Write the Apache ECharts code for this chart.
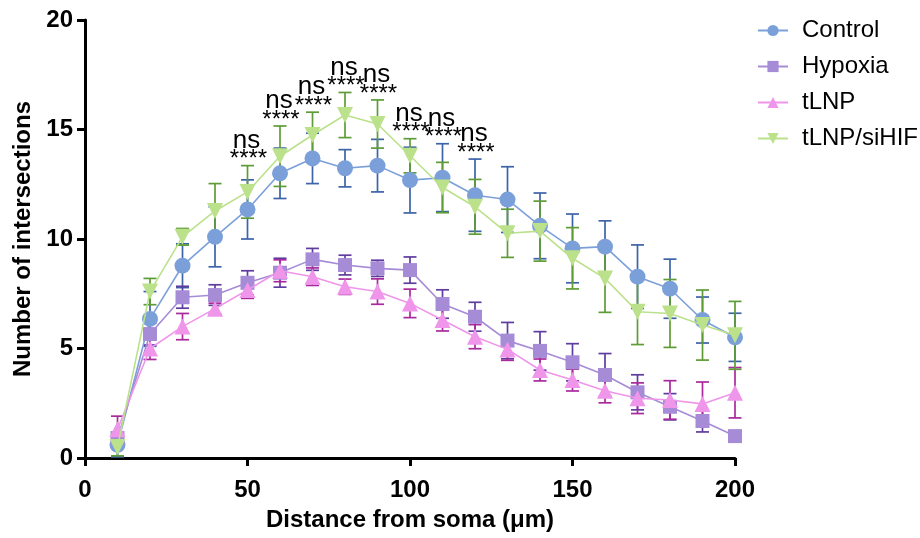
<!DOCTYPE html>
<html>
<head>
<meta charset="utf-8">
<script src="https://cdn.jsdelivr.net/npm/echarts@6/dist/echarts.min.js"></script>
<style>html,body{margin:0;padding:0;background:#fff}#c{width:920px;height:538px}</style>
</head>
<body>
<div id="c"></div>
<script>
const distances = [10,20,30,40,50,60,70,80,90,100,110,120,130,140,150,160,170,180,190,200];
const controlMean = [0.6,6.35,8.78,10.1,11.35,13.0,13.68,13.23,13.35,12.69,12.8,12.0,11.8,10.6,9.57,9.65,8.28,7.73,6.3,5.51];
const controlSem  = [0.55,1.25,1.0,1.37,1.35,1.15,1.15,0.85,1.2,1.5,1.55,1.65,1.5,1.5,1.57,1.18,1.45,1.35,1.05,1.1];
const hypoxiaMean = [0.91,5.66,7.34,7.44,8.0,8.46,9.07,8.81,8.66,8.58,7.03,6.45,5.36,4.89,4.37,3.79,3.0,2.34,1.69,1.0];
const hypoxiaSem  = [0.25,0.5,0.5,0.47,0.55,0.66,0.5,0.45,0.37,0.6,0.65,0.66,0.83,0.88,0.85,0.98,0.8,0.6,0.5,0];
const tlnpMean = [1.31,5.0,6.0,6.82,7.67,8.55,8.28,7.82,7.6,7.06,6.3,5.54,4.96,4.02,3.56,3.07,2.73,2.65,2.47,2.98];
const tlnpSem  = [0.6,0.5,0.6,0.25,0.38,0.5,0.4,0.35,0.58,0.65,0.5,0.55,0.5,0.5,0.5,0.55,0.7,0.88,1.0,1.15];
const sihifMean = [0.5,7.6,10.1,11.28,12.15,13.78,14.75,15.66,15.25,13.8,12.35,11.47,10.26,10.36,9.12,8.2,6.68,6.6,6.07,5.6];
const sihifSem  = [0.4,0.6,0.38,1.25,1.2,1.38,1.04,1.03,1.1,0.78,1.15,1.25,1.1,1.37,1.4,1.55,1.5,1.55,1.6,1.55];
const sigX = [50,60,70,80,90,100,110,120];
const sigUpper = ["ns","ns","ns","ns","ns","ns","ns","ns"];
const sigLower = ["****","****","****","****","****","****","****","****"];
const xTicks = [0,50,100,150,200];
const yTicks = [0,5,10,15,20];

const FONT = "'Liberation Sans', Arial, Helvetica, sans-serif";
const groups = [
  {name:'Control', mean:controlMean, sem:controlSem, color:'#7ba0d9', bar:'#3d63a9', symbol:'circle', size:16, rot:0},
  {name:'Hypoxia', mean:hypoxiaMean, sem:hypoxiaSem, color:'#a68bd7', bar:'#5f3c9f', symbol:'rect', size:14, rot:0},
  {name:'tLNP', mean:tlnpMean, sem:tlnpSem, color:'#ef95ea', bar:'#a92a9c', symbol:'triangle', size:16, rot:0},
  {name:'tLNP/siHIF', mean:sihifMean, sem:sihifSem, color:'#bbe18b', bar:'#5e9c35', symbol:'triangle', size:16, rot:180}
];

const series = [];
groups.forEach((g, gi) => {
  series.push({
    type:'custom', name:g.name+' SEM', z:2, silent:true,
    data: distances.map((x,i)=>[x, g.mean[i]-g.sem[i], g.mean[i]+g.sem[i]]),
    encode:{x:0, y:[1,2]},
    renderItem:(params, api)=>{
      const x = api.value(0);
      const lo = api.coord([x, api.value(1)]);
      const hi = api.coord([x, api.value(2)]);
      if (Math.abs(lo[1]-hi[1]) < 0.5) return null;
      const w = 6.5;
      const st = {stroke:g.bar, lineWidth:1.7, fill:null};
      return {type:'group', children:[
        {type:'line', shape:{x1:lo[0], y1:lo[1], x2:hi[0], y2:hi[1]}, style:st},
        {type:'line', shape:{x1:hi[0]-w, y1:hi[1], x2:hi[0]+w, y2:hi[1]}, style:st},
        {type:'line', shape:{x1:lo[0]-w, y1:lo[1], x2:lo[0]+w, y2:lo[1]}, style:st}
      ]};
    }
  });
});
groups.forEach((g, gi) => {
  series.push({
    type:'line', name:g.name, z:3+gi,
    data: distances.map((x,i)=>[x, g.mean[i]]),
    symbol:g.symbol, symbolSize:g.size, symbolRotate:g.rot, showSymbol:true,
    lineStyle:{color:g.color, width:1.6},
    itemStyle:{color:g.color, borderWidth:0},
    emphasis:{disabled:true}, animation:false
  });
});
// significance annotations placed above the highest error bar at each distance
const sigData = sigX.map((x, k) => {
  const i = distances.indexOf(x);
  const top = Math.max(...groups.map(g => g.mean[i] + g.sem[i]));
  return [x, top, k];
});
series.push({
  type:'custom', name:'sig', z:10, silent:true,
  data: sigData, encode:{x:0, y:1},
  renderItem:(params, api)=>{
    const x = api.value(0);
    const k = api.value(2);
    const p = api.coord([x, api.value(1)]);
    return {type:'group', children:[
      {type:'text', x:p[0]+1, y:p[1]+6, style:{text:sigLower[k], font:'24px '+FONT, fill:'#000', align:'center', verticalAlign:'bottom'}},
      {type:'text', x:p[0]-1, y:p[1]-12, style:{text:sigUpper[k], font:'26px '+FONT, fill:'#000', align:'center', verticalAlign:'bottom'}}
    ]};
  }
});

const chart = echarts.init(document.getElementById('c'), null, {renderer:'canvas'});
chart.setOption({
  animation:false,
  backgroundColor:'#fff',
  textStyle:{fontFamily:FONT},
  grid:{left:85, right:185, top:20, bottom:80, containLabel:false},
  legend:{
    data: groups.map(g=>g.name), orient:'vertical', left:752, top:13, padding:5,
    itemWidth:30, itemHeight:14, itemGap:11,
    textStyle:{fontSize:24, color:'#000', fontFamily:FONT, lineHeight:25, padding:[0,0,0,9]},
    selectedMode:false
  },
  xAxis:{
    type:'value', min:xTicks[0], max:xTicks[xTicks.length-1], interval:50,
    name:'Distance from soma (μm)', nameLocation:'middle', nameGap:50,
    nameTextStyle:{fontSize:24, fontWeight:'bold', color:'#000', fontFamily:FONT},
    axisLine:{show:true, lineStyle:{color:'#000', width:3}},
    axisTick:{show:true, length:8, lineStyle:{color:'#000', width:3}},
    axisLabel:{fontSize:24, fontWeight:'bold', color:'#000', margin:20, fontFamily:FONT},
    splitLine:{show:false}
  },
  yAxis:{
    type:'value', min:yTicks[0], max:yTicks[yTicks.length-1], interval:5,
    name:'Number of intersections', nameLocation:'middle', nameGap:50,
    nameTextStyle:{fontSize:24, fontWeight:'bold', color:'#000', fontFamily:FONT},
    axisLine:{show:true, lineStyle:{color:'#000', width:3}},
    axisTick:{show:true, length:8, lineStyle:{color:'#000', width:3}},
    axisLabel:{fontSize:24, fontWeight:'bold', color:'#000', margin:12, fontFamily:FONT},
    splitLine:{show:false}
  },
  series: series
});
</script>
</body>
</html>
